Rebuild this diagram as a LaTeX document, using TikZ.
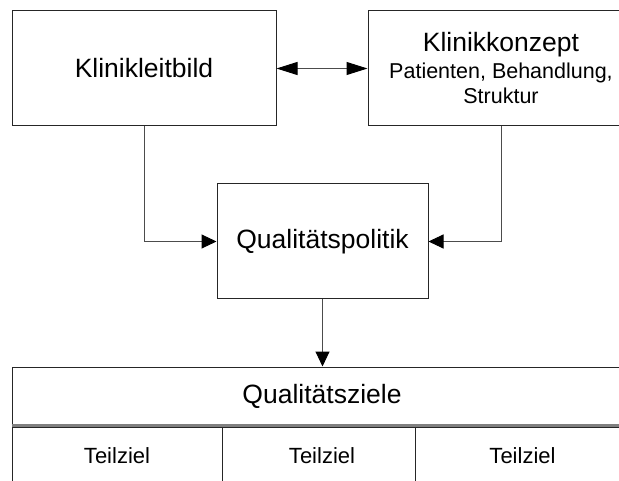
\documentclass[tikz,border=0pt]{standalone}
\usepackage{fontspec}
\setmainfont{Liberation Sans}
\usetikzlibrary{arrows.meta}
\begin{document}
\begin{tikzpicture}[x=1pt,y=-1pt,
  box/.style={draw=black!85,line width=1pt,inner sep=0pt,rectangle},
  conn/.style={draw=black!70,line width=1pt},
  tipq/.style={-{Triangle[length=15pt,width=14pt,color=black]}},
  dblarr/.style={{Triangle[length=21pt,width=13pt,color=black]}-{Triangle[length=21pt,width=13pt,color=black]}},
  big/.style={font=\fontsize{26.5}{30}\selectfont},
  small/.style={font=\fontsize{21.5}{25}\selectfont},
  cellfont/.style={font=\fontsize{22}{25}\selectfont}]
\useasboundingbox (0,0) rectangle (619,481);
\fill[white] (0,0) rectangle (619,481);
\clip (0,0) rectangle (619,481);
% boxes
\node[box,big,minimum width=264pt,minimum height=115pt] (kl) at (144,68.5) {Klinikleitbild};
\node[box,small,minimum width=266pt,minimum height=115pt,align=center] (kk) at (501,68.5)
  {{\fontsize{26.5}{30}\selectfont Klinikkonzept}\\[2pt]Patienten, Behandlung,\\Struktur};
\node[box,big,minimum width=211pt,minimum height=115pt] (qp) at (322.5,241.5) {Qualitätspolitik};
\node[box,big,minimum width=620pt,minimum height=58pt] (qz) at (322,396) {Qualitätsziele};
% sub-goal cells
\node[box,minimum width=210pt,minimum height=70pt] (c1) at (117,462) {};
\node[box,minimum width=193pt,minimum height=70pt] (c2) at (318.5,462) {};
\node[box,minimum width=215pt,minimum height=70pt] (c3) at (522.5,462) {};
\node[cellfont] (t1) at (117,456) {Teilziel};
\node[cellfont] (t2) at (322,456) {Teilziel};
\node[cellfont] (t3) at (522.5,456) {Teilziel};
% separator band
\draw[draw=black!50,line width=2.6pt] (qz.south west) -- (qz.south east);
% connectors
\draw[conn,dblarr] (kl.east) -- (kk.west);
\draw[conn,tipq] (kl.south) |- (qp.west);
\draw[conn,tipq] (kk.south) |- (qp.east);
\draw[conn,tipq] (qp.south) -- (qp.south |- qz.north);
\end{tikzpicture}
\end{document}
